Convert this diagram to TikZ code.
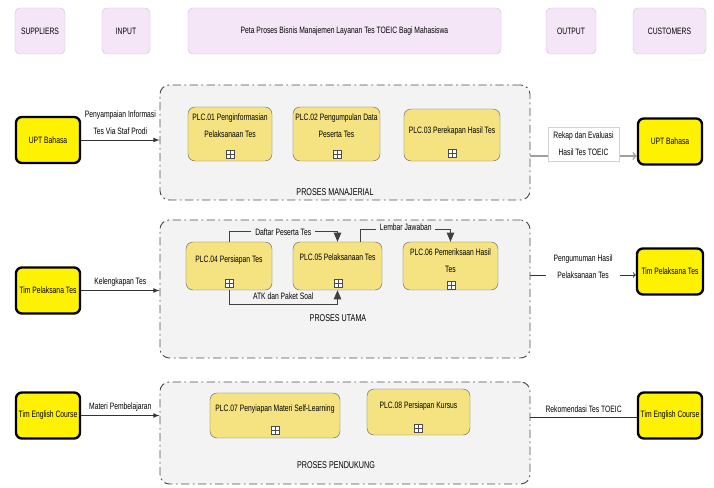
\documentclass[tikz,border=0pt]{standalone}
\usepackage{fontspec}
\setmainfont{Liberation Sans}[FakeStretch=0.73]
\usetikzlibrary{shapes,arrows,positioning,calc}

\begin{document}
\begin{tikzpicture}[x=0.03cm, y=-0.03cm,
        every node/.style={font=\fontsize{7.9pt}{14.5pt}\selectfont, align=center},
        headbox/.style={draw=headline, fill=headfill, rounded corners=4pt, minimum height=1.38cm, inner sep=0pt},
        actor/.style={draw=black, line width=2pt, fill=yellow, rounded corners=5pt, minimum width=1.92cm, minimum height=1.38cm, inner sep=0pt},
        group/.style={draw=grpline, fill=grpfill, line width=0.8pt, rounded corners=8pt, dash pattern=on 7pt off 3pt on 1.5pt off 3pt, minimum width=11.1cm},
        plcbox/.style={draw=plcline, fill=plcfill, rounded corners=6pt},
        plusicon/.style={draw=gray!60!black, fill=white, minimum size=0.24cm, inner sep=0pt,
            path picture={\draw[gray!60!black] (path picture bounding box.north) -- (path picture bounding box.south)
                (path picture bounding box.west) -- (path picture bounding box.east);}},
        grplabel/.style={font=\fontsize{8.4pt}{10pt}\selectfont},
        inarrow/.style={-latex, thick, draw=black!80},
        flow/.style={-triangle 45, thick, draw=black!75}]
        \definecolor{headfill}{RGB}{244,230,247}
        \definecolor{headline}{RGB}{218,190,232}
        \definecolor{grpfill}{RGB}{243,243,243}
        \definecolor{grpline}{RGB}{80,80,80}
        \definecolor{plcfill}{RGB}{245,227,130}
        \definecolor{plcline}{RGB}{105,105,105}

        \useasboundingbox (0,0) rectangle (714,488);

        % Header row
        \node[headbox, minimum width=1.5cm] (suppliers) at (40,31) {SUPPLIERS};
        \node[headbox, minimum width=1.44cm] (input) at (126,31) {INPUT};
        \node[headbox, minimum width=9.39cm] (title) at (344.5,31) {Peta Proses Bisnis Manajemen Layanan Tes TOEIC Bagi Mahasiswa};
        \node[headbox, minimum width=1.5cm] (output) at (571,31) {OUTPUT};
        \node[headbox, minimum width=2.19cm] (customers) at (669.5,31) {CUSTOMERS};

        % Process groups
        \node[group, minimum height=3.45cm] (grp1) at (345,142.5) {};
        \node[group, minimum height=4.14cm] (grp2) at (345,289) {};
        \node[group, minimum height=3.06cm] (grp3) at (345,433) {};
        \node[grplabel] (grp1lbl) at (335,192) {PROSES MANAJERIAL};
        \node[grplabel] (grp2lbl) at (338,318) {PROSES UTAMA};
        \node[grplabel] (grp3lbl) at (336,465) {PROSES PENDUKUNG};

        % Proses manajerial
        \node[plcbox, minimum width=2.52cm, minimum height=1.62cm] (plc1) at (230,134) {};
        \node (plc1txt) at (230,126) {PLC.01 Penginformasian\\Pelaksanaan Tes};
        \node[plusicon] (plc1plus) at (230,154) {};
        \node[plcbox, minimum width=2.61cm, minimum height=1.62cm] (plc2) at (336.5,134) {};
        \node (plc2txt) at (336.5,126) {PLC.02 Pengumpulan Data\\Peserta Tes};
        \node[plusicon] (plc2plus) at (337,154) {};
        \node[plcbox, minimum width=2.88cm, minimum height=1.56cm] (plc3) at (452,135) {};
        \node (plc3txt) at (452,131) {PLC.03 Perekapan Hasil Tes};
        \node[plusicon] (plc3plus) at (452,153) {};

        % Proses utama
        \node[plcbox, minimum width=2.58cm, minimum height=1.44cm] (plc4) at (229,266) {};
        \node (plc4txt) at (229,260) {PLC.04 Persiapan Tes};
        \node[plusicon] (plc4plus) at (229,283) {};
        \node[plcbox, minimum width=2.67cm, minimum height=1.44cm] (plc5) at (337.5,266) {};
        \node (plc5txt) at (337.5,257) {PLC.05 Pelaksanaan Tes};
        \node[plusicon] (plc5plus) at (338,283) {};
        \node[plcbox, minimum width=2.85cm, minimum height=1.44cm] (plc6) at (450.5,266) {};
        \node (plc6txt) at (450.5,261) {PLC.06 Pemeriksaan Hasil\\Tes};
        \node[plusicon] (plc6plus) at (451,285) {};

        % Proses pendukung
        \node[plcbox, minimum width=3.9cm, minimum height=1.35cm] (plc7) at (275,415.5) {};
        \node (plc7txt) at (275,409) {PLC.07 Penyiapan Materi Self-Learning};
        \node[plusicon] (plc7plus) at (275,430) {};
        \node[plcbox, minimum width=3.09cm, minimum height=1.38cm] (plc8) at (418.5,412) {};
        \node (plc8txt) at (418.5,406) {PLC.08 Persiapan Kursus};
        \node[plusicon] (plc8plus) at (418,428) {};

        % Flows inside proses utama
        \draw[flow] (plc4.north) -- ++(0,-10) -| (plc5.north)
            node[pos=0.25, fill=grpfill, inner ysep=1pt] {Daftar Peserta Tes};
        \draw[flow] ([xshift=0.7cm]plc5.north) -- ++(0,-12) -| (plc6.north)
            node[pos=0.25, fill=grpfill, inner ysep=1pt, yshift=2pt] {Lembar Jawaban};
        \draw[flow] (plc4.south) -- ++(0,14) -| (plc5.south)
            node[pos=0.25, above=0pt] {ATK dan Paket Soal};

        % Left - suppliers
        \node[actor] (upt1) at (48,140) {UPT Bahasa};
        \node[actor] (tp1) at (48,290.5) {Tim Pelaksana Tes};
        \node[actor] (tec1) at (48,415.5) {Tim English Course};

        % Right - customers
        \node[actor] (upt2) at (670,141.5) {UPT Bahasa};
        \node[actor, minimum width=1.98cm] (tp2) at (670,271.5) {Tim Pelaksana Tes};
        \node[actor] (tec2) at (670,415.5) {Tim English Course};

        % Inputs
        \draw[inarrow] (upt1.east) -- (upt1.east -| grp1.west)
            node[midway, above=1pt] {Penyampaian Informasi\\Tes Via Staf Prodi};
        \draw[inarrow] (tp1.east) -- (tp1.east -| grp2.west)
            node[midway, above=0pt] {Kelengkapan Tes};
        \draw[inarrow] (tec1.east) -- (tec1.east -| grp3.west)
            node[midway, above=0pt] {Materi Pembelajaran};

        % Outputs
        \draw[->, line width=1.4pt, draw=gray!75] (grp1.east |- 0,156) -- (upt2.west |- 0,156);
        \node[draw=gray!35, fill=white, minimum width=2.13cm, minimum height=1.02cm, inner sep=0pt] (rekap) at (583.5,144)
            {Rekap dan Evaluasi\\Hasil Tes TOEIC};
        \draw[->, thick, draw=black!80] (grp2.east |- 0,275) -- (tp2.west |- 0,275)
            node[midway, fill=white, minimum width=2.2cm, inner ysep=1pt, yshift=0.25cm] {Pengumuman Hasil\\Pelaksanaan Tes};
        \draw[thick, draw=black!80] (grp3.east |- 0,417) -- (tec2.west |- 0,417)
            node[midway, above=0pt] {Rekomendasi Tes TOEIC};
    \end{tikzpicture}
\end{document}
